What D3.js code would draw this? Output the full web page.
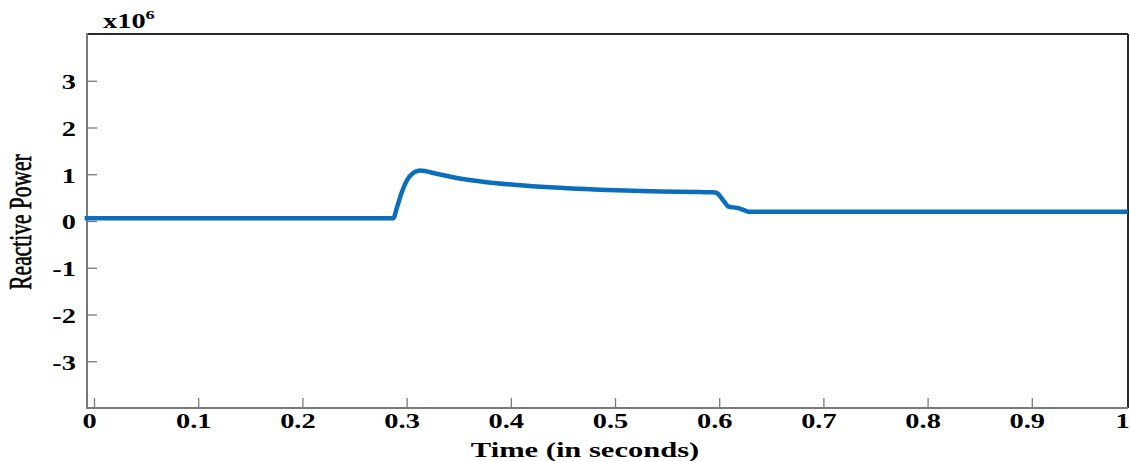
<!DOCTYPE html>
<html>
<head>
<meta charset="utf-8">
<script src="https://cdn.jsdelivr.net/npm/d3@7"></script>
<style>
  html, body { margin: 0; padding: 0; background: #fff; }
  svg { display: block; }
  text { font-family: "Liberation Serif", "Times New Roman", serif; }
</style>
</head>
<body>
<svg id="chart" width="1130" height="461"></svg>
<script>
// Reactive power response (x10^6) over time
const timeSec = [-0.009, 0.10, 0.20, 0.2873, 0.2905, 0.2953, 0.3001, 0.3064, 0.3129, 0.3289,
                 0.3481, 0.3769, 0.4056, 0.4376, 0.4856, 0.5336, 0.5940, 0.5976, 0.6039,
                 0.6087, 0.6168, 0.6231, 0.6279, 0.70, 0.80, 0.90, 0.9923];
const reactivePower = [0.06, 0.06, 0.06, 0.06, 0.27, 0.61, 0.86, 1.03, 1.08, 1.01,
                       0.92, 0.83, 0.77, 0.72, 0.67, 0.637, 0.616, 0.60, 0.44,
                       0.31, 0.28, 0.24, 0.20, 0.20, 0.20, 0.20, 0.20];
const xTicks = [0, 0.1, 0.2, 0.3, 0.4, 0.5, 0.6, 0.7, 0.8, 0.9, 1];
const xTickLabels = ["0", "0.1", "0.2", "0.3", "0.4", "0.5", "0.6", "0.7", "0.8", "0.9", "1"];
const yTicks = [-3, -2, -1, 0, 1, 2, 3];
const yTickLabels = ["-3", "-2", "-1", "0", "1", "2", "3"];

(function draw() {
  const svg = d3.select("#chart");
  const stretch = 1.42;           // wide glyphs
  const pLeft = 87, pRight = 1128, pTop = 34, pBottom = 408;

  const x = d3.scaleLinear().domain([0, 1]).range([94, 1136]);
  const y = d3.scaleLinear().domain([-4, 4]).range([pBottom, pTop]);

  // frame: dark top/right
  svg.append("line").attr("x1", pLeft).attr("x2", pRight).attr("y1", pTop).attr("y2", pTop)
    .attr("stroke", "#2a2a2a").attr("stroke-width", 2);
  svg.append("line").attr("x1", pRight).attr("x2", pRight).attr("y1", pTop).attr("y2", pBottom)
    .attr("stroke", "#2a2a2a").attr("stroke-width", 2);

  // x axis
  const xAxis = d3.axisBottom(x).tickValues(xTicks)
    .tickFormat((d, i) => xTickLabels[i])
    .tickSizeInner(-10).tickSizeOuter(0).tickPadding(0);
  const gx = svg.append("g").attr("transform", `translate(0,${pBottom})`).call(xAxis);
  gx.select(".domain").remove();
  gx.selectAll(".tick line").attr("stroke", "#7a7a7a").attr("stroke-width", 1.3);
  gx.selectAll(".tick text")
    .attr("y", 20).attr("dy", 0)
    // the last label sits at the frame edge, pulled inside the page
    .attr("transform", d => `translate(${x(d) > pRight ? pRight - 6 - x(d) : -5},0) scale(${stretch},1)`)
    .attr("fill", "#000")
    .style("font-size", "20px").style("font-weight", "bold");

  // y axis
  const yAxis = d3.axisLeft(y).tickValues(yTicks)
    .tickFormat((d, i) => yTickLabels[i])
    .tickSizeInner(-10).tickSizeOuter(0).tickPadding(0);
  const gy = svg.append("g").attr("transform", `translate(${pLeft},0)`).call(yAxis);
  gy.select(".domain").remove();
  gy.selectAll(".tick line").attr("stroke", "#7a7a7a").attr("stroke-width", 1.3);
  gy.selectAll(".tick text")
    .attr("x", 0).attr("dy", "0.34em")
    .attr("transform", `translate(-11,1) scale(${stretch},1)`)
    .attr("fill", "#000")
    .style("font-size", "20px").style("font-weight", "bold");

  // frame: grey left/bottom
  svg.append("line").attr("x1", pLeft).attr("x2", pLeft).attr("y1", pTop - 1).attr("y2", pBottom + 1)
    .attr("stroke", "#7a7a7a").attr("stroke-width", 2);
  svg.append("line").attr("x1", pLeft).attr("x2", pRight).attr("y1", pBottom).attr("y2", pBottom)
    .attr("stroke", "#7a7a7a").attr("stroke-width", 2);

  // data line
  const pts = timeSec.map((t, i) => [t, reactivePower[i]]);
  const line = d3.line().x(d => x(d[0])).y(d => y(d[1])).curve(d3.curveMonotoneX);
  svg.append("path").datum(pts)
    .attr("d", line)
    .attr("fill", "none")
    .attr("stroke", "#0b6ebd")
    .attr("stroke-width", 4.5)
    .attr("stroke-linejoin", "round");

  // exponent label
  const exp = svg.append("text")
    .attr("transform", `translate(103,28) scale(${stretch},1)`)
    .attr("fill", "#000").style("font-size", "20px").style("font-weight", "bold");
  exp.append("tspan").text("x10");
  exp.append("tspan").attr("dy", -9).style("font-size", "13px").text("6");

  // axis titles
  svg.append("text")
    .attr("transform", `translate(585,457) scale(${stretch},1)`)
    .attr("text-anchor", "middle")
    .attr("fill", "#000").style("font-size", "21.5px").style("font-weight", "bold")
    .text("Time (in seconds)");

  svg.append("text")
    .attr("transform", `translate(31,222) scale(${stretch},1) rotate(-90)`)
    .attr("text-anchor", "middle")
    .attr("fill", "#000").attr("stroke", "#000").attr("stroke-width", 0.45)
    .style("font-size", "21.5px")
    .text("Reactive Power");
})();
</script>
</body>
</html>
